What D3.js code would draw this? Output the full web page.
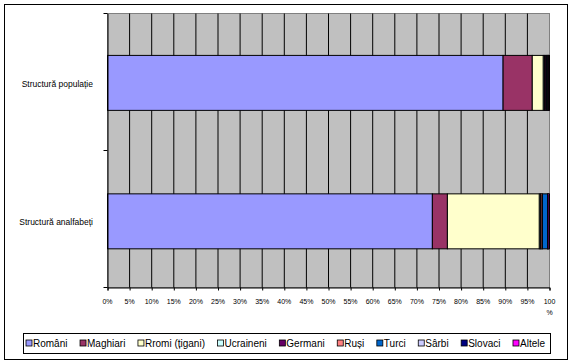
<!DOCTYPE html>
<html><head><meta charset="utf-8">
<script src="https://cdn.jsdelivr.net/npm/d3@7"></script>
<style>body{margin:0;background:#fff}svg{display:block}</style>
</head><body><svg id="c" width="577" height="363"></svg>
<script>
const categories = ["Structură populație", "Structură analfabeți"];
const groups = ["Români","Maghiari","Rromi (țigani)","Ucraineni","Germani","Ruși","Turci","Sârbi","Slovaci","Altele"];
const colors = ["#9999FF","#993366","#FFFFCC","#CCFFFF","#660066","#FF8080","#0066CC","#CCCCFF","#000080","#FF00FF"];
const populatie = [89.5, 6.6, 2.5, 0.3, 0.3, 0.2, 0.2, 0.1, 0.1, 0.2];
const analfabeti = [73.5, 3.4, 20.8, 0.3, 0.1, 0.3, 1.2, 0.05, 0.05, 0.3];
const tickValues = [0,5,10,15,20,25,30,35,40,45,50,55,60,65,70,75,80,85,90,95,100];

const svg = d3.select("#c");
const font = "'Liberation Sans', Arial, sans-serif";
const L = 107.5, R = 549.5, T = 13.5, B = 287.5;

svg.append("rect").attr("x",4.5).attr("y",4.5).attr("width",563).attr("height",355)
  .attr("fill","#fff").attr("stroke","#000");

const x = d3.scaleLinear().domain([0,100]).range([L,R]);
const y = d3.scaleBand().domain(categories).range([T,B]).paddingInner(0.603).paddingOuter(0.291).align(0.52);

// plot area
svg.append("rect").attr("x",L).attr("y",T).attr("width",R-L).attr("height",B-T)
  .attr("fill","#C0C0C0").attr("stroke","#808080");
svg.append("g").selectAll("line").data(tickValues.slice(1,-1)).join("line")
  .attr("x1",d=>x(d)).attr("x2",d=>x(d)).attr("y1",T).attr("y2",B)
  .attr("stroke","#000").attr("stroke-width",1);

// bars
const rows = [populatie, analfabeti];
rows.forEach((vals,ri)=>{
  let acc = 0;
  const segs = vals.map((v,i)=>{const s={x0:acc,x1:acc+v,i};acc+=v;return s;});
  svg.append("g").selectAll("rect").data(segs).join("rect")
    .attr("x",d=>x(d.x0)).attr("width",d=>x(d.x1)-x(d.x0))
    .attr("y",y(categories[ri])).attr("height",y.bandwidth())
    .attr("fill",d=>colors[d.i]).attr("stroke","#000").attr("stroke-width",1);
});

// axes
const xa = svg.append("g").attr("transform",`translate(0,${B})`)
  .call(d3.axisBottom(x).tickValues(tickValues).tickSize(3).tickFormat(()=>""));
xa.select(".domain").attr("stroke","#000");
xa.selectAll(".tick line").attr("stroke","#000");
const tl = svg.append("g").attr("font-family",font).attr("font-size",7).attr("fill","#000");
tickValues.forEach(v=>{
  if(v===100){
    tl.append("text").attr("x",x(v)).attr("y",304).attr("text-anchor","middle").text("100");
    tl.append("text").attr("x",x(v)).attr("y",315).attr("text-anchor","middle").text("%");
  } else {
    tl.append("text").attr("x",x(v)).attr("y",304).attr("text-anchor","middle").text(v+"%");
  }
});

const ya = svg.append("g").attr("transform",`translate(${L},0)`)
  .call(d3.axisLeft(y).tickSize(0).tickFormat(""));
ya.select(".domain").attr("stroke","#000");
[T, (T+B)/2, B].forEach(v=>{
  svg.append("line").attr("x1",L-4).attr("x2",L).attr("y1",v).attr("y2",v).attr("stroke","#000");
});
svg.append("g").selectAll("text").data(categories).join("text")
  .attr("x",93).attr("y",d=>y(d)+y.bandwidth()/2+4)
  .attr("text-anchor","end").attr("font-family",font).attr("font-size",8.5).text(d=>d);

// legend
const lg = svg.append("g");
lg.append("rect").attr("x",23.5).attr("y",333.5).attr("width",527).attr("height",20)
  .attr("fill","#fff").attr("stroke","#000");
const items = lg.selectAll("g").data(groups).join("g");
items.append("rect").attr("width",6).attr("height",6).attr("fill",(d,i)=>colors[i])
  .attr("stroke","#000").attr("stroke-width",0.8);
items.append("text").attr("x",7).attr("y",7).attr("font-family",font).attr("font-size",10).text(d=>d);
const widths = [];
items.select("text").each(function(){widths.push(this.getComputedTextLength());});
const total = widths.reduce((a,b)=>a+b,0) + groups.length*7;
const gap = (545-26-total)/(groups.length-1);
let cx = 26;
items.each(function(d,i){
  d3.select(this).attr("transform",`translate(${cx},${340})`);
  cx += 7 + widths[i] + gap;
});
</script></body></html>
